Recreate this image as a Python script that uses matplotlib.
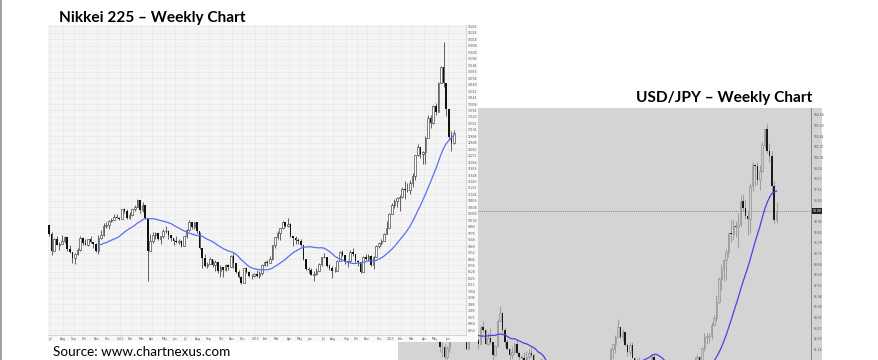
import numpy as np
import pandas as pd
import matplotlib
matplotlib.use("Agg")
import matplotlib.pyplot as plt
from matplotlib.lines import Line2D
from matplotlib.transforms import blended_transform_factory

# Weekly candles, week ending Fridays from 25 Jun 2010 to 21 Jun 2013
start_week = "2010-06-25"

# Nikkei 225 (open = previous close)
nk_open0 = 10030
nk_close = [9737, 9203, 9585, 9408, 9431, 9537, 9642, 9253, 9179, 8991,
            9114, 9239, 9626, 9471, 9404, 9589, 9500, 9426, 9202, 9625,
            9725, 10022, 10040, 10178, 10212, 10304, 10279, 10229, 10541, 10499,
            10274, 10360, 10543, 10605, 10842, 10527, 10693, 10254, 9207, 9536,
            9708, 9768, 9591, 9682, 9850, 9859, 9716, 9607, 9521, 9492,
            9514, 9351, 9678, 9868, 10137, 9974, 10132, 9833, 9299, 8963,
            8719, 8797, 8950, 8737, 8864, 8560, 8700, 8605, 8747, 8678,
            9050, 8801, 8514, 8374, 8160, 8643, 8536, 8401, 8395, 8455,
            8390, 8500, 8766, 8841, 8831, 8947, 9384, 9647, 9777, 9929,
            10129, 10011, 10083, 9688, 9637, 9561, 9520, 9380, 8953, 8611,
            8593, 8440, 8459, 8569, 8798, 9006, 9020, 8724, 8669, 8566,
            8555, 8891, 9162, 9070, 8839, 8871, 9159, 9110, 8870, 8863,
            8534, 9002, 8933, 9051, 8757, 9024, 9366, 9446, 9527, 9737,
            9940, 10395, 10688, 10801, 10913, 10926, 11191, 11153, 11173, 11385,
            11606, 12283, 12560, 12338, 12397, 12833, 13485, 13316, 13884, 13694,
            14607, 15138, 14612, 13774, 12877, 12686, 13010]
nk_high = [10050, 9800, 9620, 9700, 9500, 9710, 9700, 9580, 9400, 9180,
           9140, 9300, 9700, 9650, 9600, 9600, 9700, 9500, 9450, 9720,
           9870, 10100, 10130, 10200, 10250, 10400, 10380, 10300, 10560, 10600,
           10550, 10470, 10560, 10700, 10880, 10800, 10770, 10700, 10250, 9740,
           9820, 9830, 9720, 9700, 9900, 10010, 9880, 9720, 9600, 9700,
           9600, 9560, 9700, 9900, 10200, 10100, 10150, 10080, 9820, 9300,
           9100, 8850, 9010, 8900, 8900, 8790, 8750, 8650, 8800, 8800,
           9080, 9150, 8800, 8600, 8400, 8660, 8700, 8550, 8470, 8500,
           8580, 8550, 8790, 8890, 8900, 9050, 9400, 9650, 9860, 9950,
           10170, 10140, 10260, 10110, 9700, 9680, 9620, 9600, 9350, 8960,
           8700, 8660, 8560, 8640, 8830, 9010, 9140, 9000, 8800, 8720,
           8700, 8910, 9200, 9220, 9090, 8900, 9230, 9290, 9100, 8900,
           8850, 9050, 9100, 9100, 9060, 9050, 9400, 9500, 9600, 9780,
           10160, 10430, 10740, 10880, 10950, 10990, 11260, 11460, 11400, 11500,
           11700, 12300, 12650, 12500, 12420, 12900, 13590, 13570, 13920, 13980,
           14640, 15160, 15942, 14500, 13700, 13080, 13100]
nk_low = [9680, 9090, 9200, 9380, 9250, 9420, 9470, 9190, 9140, 8810,
          8800, 9070, 9210, 9400, 9380, 9350, 9450, 9300, 9180, 9120,
          9600, 9700, 9950, 9920, 10130, 10250, 10250, 10200, 10350, 10430,
          10240, 10230, 10320, 10480, 10620, 10430, 10460, 10220, 8227, 9200,
          9450, 9600, 9550, 9440, 9620, 9790, 9580, 9520, 9400, 9450,
          9440, 9320, 9360, 9620, 9850, 9900, 9920, 9780, 9260, 8650,
          8700, 8650, 8780, 8700, 8570, 8510, 8360, 8350, 8560, 8600,
          8700, 8640, 8480, 8340, 8130, 8200, 8500, 8370, 8300, 8360,
          8350, 8340, 8440, 8720, 8730, 8840, 8920, 9300, 9600, 9550,
          9900, 9970, 9980, 9640, 9370, 9420, 9420, 9350, 8920, 8600,
          8500, 8420, 8240, 8430, 8560, 8720, 8990, 8700, 8600, 8330,
          8520, 8560, 8880, 9050, 8800, 8680, 8860, 9050, 8860, 8730,
          8500, 8550, 8900, 8870, 8730, 8620, 9000, 9300, 9390, 9520,
          9750, 9980, 10400, 10600, 10620, 10490, 10900, 10870, 11100, 11050,
          11250, 11500, 12250, 12200, 12000, 12000, 12900, 13150, 13300, 13580,
          13700, 14600, 14480, 13550, 12780, 12420, 12660]

# USD/JPY (open = previous close)
fx_open0 = 90.70
fx_close = [89.25, 87.75, 88.60, 86.60, 86.90, 86.45, 85.40, 86.20, 85.60, 85.20,
            84.30, 83.90, 85.80, 84.25, 83.30, 82.00, 81.40, 81.35, 80.40, 81.25,
            82.50, 83.55, 84.30, 82.50, 83.90, 83.95, 82.95, 81.15, 83.20, 82.60,
            82.50, 82.10, 81.65, 83.40, 83.05, 81.70, 82.30, 81.90, 80.60, 81.50,
            84.00, 84.80, 83.10, 81.85, 81.20, 80.60, 80.90, 81.70, 80.80, 80.35,
            80.25, 80.00, 80.35, 80.80, 80.60, 79.10, 78.30, 76.75, 78.40, 76.75,
            76.50, 76.70, 76.80, 77.55, 76.80, 76.40, 77.05, 76.70, 77.00, 76.20,
            75.80, 78.20, 77.05, 76.90, 77.70, 77.95, 77.70, 77.80, 78.10, 76.90,
            76.90, 76.80, 77.00, 76.70, 76.20, 77.60, 79.55, 81.20, 81.70, 82.40,
            83.40, 82.40, 82.85, 81.55, 80.90, 81.55, 80.30, 79.75, 80.10, 79.05,
            79.65, 78.35, 79.55, 78.70, 80.40, 79.80, 79.65, 78.70, 78.50, 78.25,
            78.40, 78.30, 79.55, 78.70, 78.30, 78.30, 78.35, 78.15, 77.95, 78.70,
            78.45, 79.30, 79.90, 80.40, 79.50, 81.30, 82.40, 82.45, 82.45, 83.55,
            84.25, 85.90, 88.15, 89.20, 90.05, 90.85, 92.75, 92.65, 93.50, 93.40,
            93.60, 96.00, 95.30, 94.50, 94.20, 97.50, 99.60, 99.45, 98.05, 99.00,
            101.60, 103.20, 101.00, 100.45, 97.50, 94.05, 94.98]
fx_high = [91.30, 89.60, 88.90, 88.95, 87.55, 88.15, 86.60, 86.40, 85.90, 85.60,
           85.30, 84.35, 86.00, 85.90, 84.40, 83.50, 82.30, 81.90, 81.70, 81.50,
           82.70, 83.70, 84.40, 84.50, 84.15, 84.50, 84.20, 83.00, 83.50, 83.30,
           83.20, 82.95, 82.20, 83.60, 83.95, 83.20, 82.80, 83.30, 81.90, 81.60,
           84.20, 85.50, 84.90, 83.40, 82.20, 81.30, 81.50, 81.90, 82.10, 81.00,
           80.60, 80.85, 81.00, 81.20, 81.40, 80.70, 79.20, 78.40, 80.25, 78.40,
           77.10, 77.30, 77.20, 77.80, 77.60, 76.90, 77.20, 77.10, 77.40, 77.10,
           76.30, 79.55, 78.30, 77.40, 77.90, 78.20, 78.10, 78.20, 78.20, 78.20,
           77.20, 77.20, 77.40, 77.80, 76.90, 77.80, 79.70, 81.30, 81.80, 82.60,
           84.20, 83.40, 83.20, 83.00, 81.80, 81.90, 81.90, 80.40, 80.30, 80.35,
           79.80, 79.70, 79.70, 79.60, 80.60, 80.60, 80.00, 79.80, 79.30, 78.50,
           78.70, 78.80, 79.60, 79.70, 78.80, 78.50, 79.00, 78.90, 78.10, 78.70,
           78.90, 79.50, 80.35, 80.70, 80.50, 81.40, 82.80, 82.80, 82.80, 83.90,
           84.60, 86.60, 88.40, 89.70, 90.20, 91.20, 92.80, 94.10, 94.20, 94.00,
           94.80, 96.60, 96.70, 96.10, 95.00, 97.80, 99.90, 99.70, 99.90, 99.60,
           101.90, 103.30, 103.70, 101.80, 101.00, 98.00, 95.90]
fx_low = [89.10, 86.95, 86.95, 86.25, 86.25, 86.30, 85.00, 84.70, 85.00, 83.55,
          83.90, 83.10, 82.85, 84.05, 83.15, 81.85, 80.85, 80.40, 80.15, 80.20,
          80.90, 82.10, 82.95, 82.30, 82.40, 83.05, 82.90, 81.10, 81.20, 82.25,
          81.90, 81.90, 81.20, 81.65, 82.90, 81.60, 81.60, 81.70, 76.25, 80.50,
          81.40, 84.00, 82.80, 81.50, 81.10, 79.60, 80.20, 80.70, 80.70, 80.00,
          79.70, 79.90, 80.00, 80.20, 80.40, 78.50, 78.10, 76.40, 76.30, 76.30,
          75.95, 76.50, 76.20, 76.80, 76.60, 76.10, 76.10, 76.30, 76.50, 75.90,
          75.35, 75.80, 76.90, 76.60, 76.60, 77.40, 77.50, 77.50, 77.80, 76.80,
          76.60, 76.60, 76.50, 76.40, 76.00, 76.20, 77.50, 79.50, 80.20, 80.80,
          82.50, 82.20, 82.00, 81.50, 80.50, 80.60, 80.30, 79.60, 79.60, 78.90,
          78.90, 77.65, 78.10, 78.40, 78.70, 79.30, 79.40, 78.60, 78.20, 77.90,
          77.90, 77.90, 78.30, 78.40, 78.10, 78.00, 77.70, 77.80, 77.50, 77.80,
          78.00, 78.30, 79.60, 79.70, 79.10, 79.40, 81.00, 81.70, 81.80, 82.20,
          83.50, 84.00, 85.80, 87.10, 88.00, 88.10, 90.40, 91.90, 92.20, 92.40,
          91.30, 93.50, 95.00, 94.20, 92.60, 92.80, 97.00, 97.50, 97.60, 97.10,
          98.90, 101.30, 100.80, 99.90, 96.80, 93.80, 93.80]
fx_last = 94.98
ma_weeks = 20

W, H = 879, 360


def px_axes(fig, x0, y0, x1, y1, z):
    ax = fig.add_axes([x0 / W, 1 - y1 / H, (x1 - x0) / W, (y1 - y0) / H])
    ax.set_zorder(z)
    return ax


def draw_candles(ax, o, h, l, c, wick, up_edge, up_face, down_face, width=0.62):
    x = np.arange(len(c))
    o, h, l, c = map(np.asarray, (o, h, l, c))
    ax.vlines(x, l, h, color=wick, lw=0.55, zorder=2)
    up = c >= o
    ax.bar(x[up], (c - o)[up], bottom=o[up], width=width, facecolor=up_face,
           edgecolor=up_edge, lw=0.45, zorder=3)
    ax.bar(x[~up], (o - c)[~up], bottom=c[~up], width=width, color=down_face,
           lw=0, zorder=3)


def moving_avg(c, n):
    s = pd.Series(c).rolling(n).mean()
    return s.values


fig = plt.figure(figsize=(W / 100, H / 100), dpi=100)
fig.patch.set_facecolor("white")

# ---- USD/JPY panel (behind) ----
fx_bg = px_axes(fig, 398, 108, 822, 362, 1)
fx_bg.set_facecolor("#d4d4d4")
fx_bg.set_xticks([])
fx_bg.set_yticks([])
for s in fx_bg.spines.values():
    s.set_visible(False)

ax2 = px_axes(fig, 398, 108, 811, 362, 2)
ax2.set_facecolor("#d4d4d4")
fx_o = [fx_open0] + fx_close[:-1]
draw_candles(ax2, fx_o, fx_high, fx_low, fx_close, "#8e8e8e", "#8e8e8e", "#cdcdcd", "#1a1a1a")
ax2.plot(np.arange(len(fx_close)), moving_avg(fx_close, ma_weeks), color="#4f3fe0", lw=0.9, zorder=4)
ax2.axhline(fx_last, color="#6a6a6a", lw=0.5, ls=(0, (1.5, 1.5)), zorder=1)
ax2.set_xlim(-1.4, 170.3)
ax2.set_ylim(79.9, 105.26)
fx_ticks = [fx_last + 1.065 * k for k in range(-13, 10) if k != 0]
ax2.set_yticks(fx_ticks)
ax2.set_yticklabels(["%.2f" % t for t in fx_ticks])
ax2.yaxis.tick_right()
ax2.tick_params(axis="y", labelsize=2.2, length=1, width=0.3, pad=0.8, colors="#555555")
ax2.set_xticks([])
for k in ("top", "left", "bottom"):
    ax2.spines[k].set_visible(False)
ax2.spines["right"].set_color("#7a7a7a")
ax2.spines["right"].set_linewidth(0.6)
tr = blended_transform_factory(ax2.transAxes, ax2.transData)
ax2.text(1.004, fx_last, "%.2f" % fx_last, transform=tr, fontsize=2.2, color="white",
         va="center", ha="left", clip_on=False, zorder=6,
         bbox=dict(boxstyle="square,pad=0.25", fc="#222222", ec="none"))

# ---- Nikkei panel (front) ----
nk_bg = px_axes(fig, 48, 25, 478, 342, 3)
nk_bg.set_facecolor("#f9f9f9")
nk_bg.set_xticks([])
nk_bg.set_yticks([])
for s in nk_bg.spines.values():
    s.set_visible(False)

ax1 = px_axes(fig, 48, 25, 466, 335, 4)
ax1.set_facecolor("#f4f4f4")
nk_o = [nk_open0] + nk_close[:-1]
draw_candles(ax1, nk_o, nk_high, nk_low, nk_close, "#3a3a3a", "#3a3a3a", "#ffffff", "#111111")
ax1.plot(np.arange(len(nk_close)), moving_avg(nk_close, ma_weeks), color="#5a6ff2", lw=0.9, zorder=4)
ax1.set_xlim(-0.4, 160.6)
ax1.set_ylim(6498, 16480)

nk_ticks = list(range(6656, 16500, 208))
ax1.set_yticks(nk_ticks)
ax1.set_yticklabels([str(t) for t in nk_ticks])
ax1.yaxis.tick_right()
ax1.tick_params(axis="y", labelsize=2.2, length=0, pad=1.2, colors="#555555")

dates = pd.date_range(start_week, periods=len(nk_close), freq="W-FRI")
month_pos, month_lab = [], []
for i in range(1, len(dates)):
    if dates[i].month != dates[i - 1].month:
        month_pos.append(i - 0.5)
        month_lab.append(str(dates[i].year) if dates[i].month == 1 else dates[i].strftime("%b"))
ax1.set_xticks(month_pos)
ax1.set_xticklabels(month_lab)
ax1.tick_params(axis="x", labelsize=2.2, length=0, pad=1.5, colors="#555555")
ax1.grid(True, color="#e8e8e8", lw=0.5)
ax1.set_axisbelow(True)
for k in ("top", "left"):
    ax1.spines[k].set_visible(False)
for k in ("right", "bottom"):
    ax1.spines[k].set_color("#cccccc")
    ax1.spines[k].set_linewidth(0.6)

# ---- texts ----
fig.text(59 / W, 1 - 22 / H, "Nikkei 225 \u2013 Weekly Chart", family="Lato",
         fontweight="bold", fontsize=11.1, va="baseline", zorder=10)
fig.text(812 / W, 1 - 102 / H, "USD/JPY \u2013 Weekly Chart", family="Lato",
         fontweight="bold", fontsize=11.1, va="baseline", ha="right", zorder=10)
fig.text(53 / W, 1 - 356 / H, "Source: www.chartnexus.com", family="Lato",
         fontsize=9.7, va="baseline", zorder=10)

fig.add_artist(Line2D([0.8 / W, 0.8 / W], [0, 1], color="#8c8c94", lw=1.2))

fig.savefig("out.png", dpi=100, facecolor="white")
